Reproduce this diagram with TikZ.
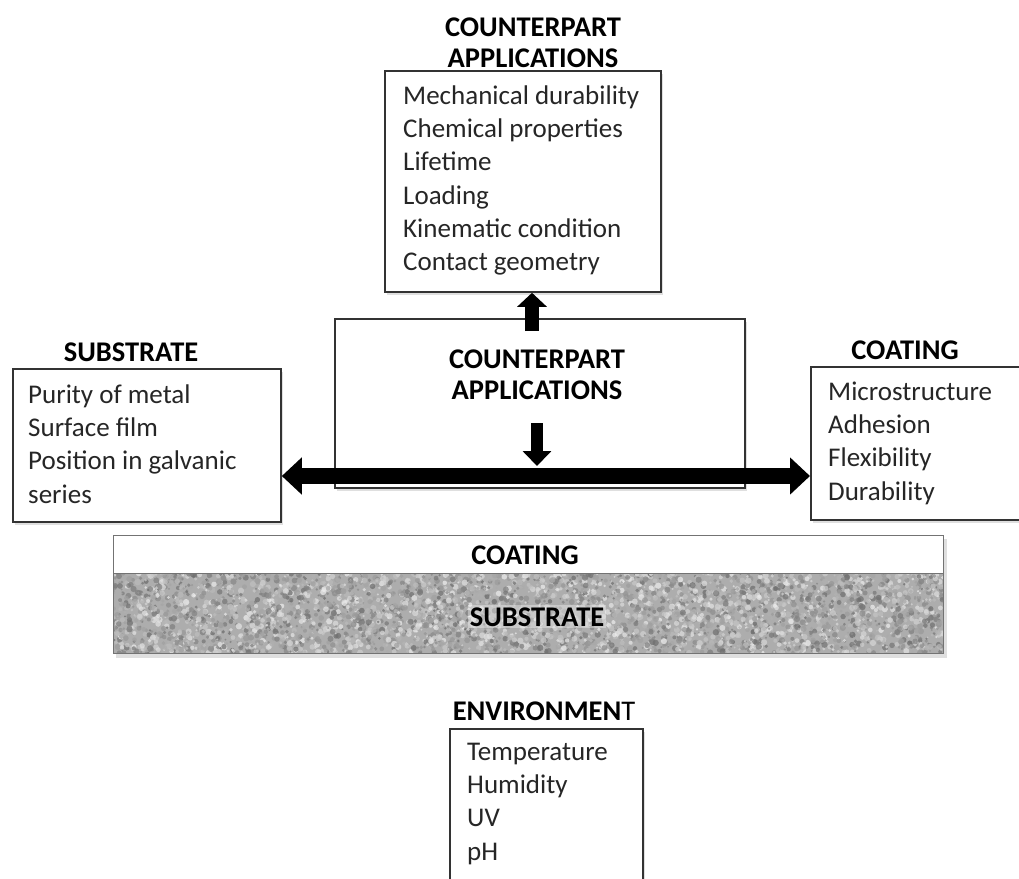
\documentclass[tikz,border=0pt]{standalone}
\usepackage{fontspec}
\setmainfont{Carlito}
\usetikzlibrary{arrows.meta,shadows}
\begin{document}
\begin{tikzpicture}[x=1pt,y=-1pt,
  box/.style={draw=black!80, line width=1.8pt, fill=white, anchor=north west, inner sep=0pt,
    drop shadow={shadow xshift=2pt, shadow yshift=-3pt, opacity=0.25}},
  body/.style={font=\fontsize{27}{33.2}\selectfont, align=left, anchor=north west, inner sep=0pt, text=black!85},
  head/.style={font=\bfseries\fontsize{28.5}{31}\selectfont, align=center, inner sep=0pt},
  uparr/.style={line width=14pt, -{Triangle[length=14pt,width=29pt]}},
  downarr/.style={line width=12pt, -{Triangle[length=15pt,width=28pt]}},
  dblarr/.style={line width=16pt, {Triangle[length=20pt,width=36pt]}-{Triangle[length=20pt,width=36pt]}}
]
\useasboundingbox (0,0) rectangle (1019,878);

% ---- top box
\node[head, anchor=north] (toph) at (533,14.3) {\strut COUNTERPART\\APPLICATIONS};
\node[box, minimum width=276pt, minimum height=221pt] (top) at (384,70) {};
\node[body] (topt) at (403,81) {\strut Mechanical durability\\Chemical properties\\Lifetime\\Loading\\Kinematic condition\\Contact geometry};

% ---- centre box
\node[box, minimum width=410pt, minimum height=169pt] (center) at (334,318) {};
\node[head, anchor=north] (centerh) at (537,347) {\strut COUNTERPART\\APPLICATIONS};

% ---- substrate box
\node[head, anchor=base] (subh) at (131,361) {SUBSTRATE};
\node[box, minimum width=268pt, minimum height=153pt] (sub) at (12,368) {};
\node[body] (subt) at (28,380) {\strut Purity of metal\\Surface film\\Position in galvanic\\series};

% ---- coating box
\node[head, anchor=base] (coath) at (905,359) {COATING};
\node[box, minimum width=240pt, minimum height=153pt] (coat) at (810,366) {};
\node[body] (coatt) at (828,377) {\strut Microstructure\\Adhesion\\Flexibility\\Durability};

% ---- arrows
\coordinate (upS) at (532,331);
\draw[uparr] (upS) -- (upS |- top.south);
\coordinate (h) at (537,476);
\coordinate (downS) at (537,423);
\draw[dblarr] (h -| sub.east) -- (h -| coat.west);
\draw[downarr] (downS) -- ([yshift=10pt]h);

% ---- layer band
\fill[black!25, opacity=0.5] (116,539) rectangle (947,658);
\node[draw=black!55, line width=1pt, fill=white, anchor=north west, inner sep=0pt,
  minimum width=830pt, minimum height=38pt] (coatlayer) at (113,535) {};
\begin{scope}
  \clip (113,573) rectangle (943,653);
  \fill[black!32] (113,573) rectangle (943,653);
  \pgfmathsetseed{12345}
  \foreach \i in {1,...,4500}{
    \pgfmathsetmacro\px{113+830*rnd}
    \pgfmathsetmacro\py{573+80*rnd}
    \pgfmathsetmacro\g{int(8+50*rnd)}
    \pgfmathsetmacro\r{1+2.2*rnd}
    \fill[black!\g, opacity=0.75] (\px,\py) circle[radius=\r pt];
  }
\end{scope}
\draw[black!55, line width=1pt] (113,573) rectangle (943,653);
\node[head, anchor=base] (coatl) at (525,564) {COATING};
\node[head, anchor=base, fill=white, fill opacity=0.35, text opacity=1, inner sep=2pt] (subl) at (537,626) {SUBSTRATE};

% ---- environment box
\node[head, anchor=base] (envh) at (544,720) {ENVIRONMEN\mdseries T};
\node[box, minimum width=193pt, minimum height=200pt] (env) at (449,728) {};
\node[body] (envt) at (467,737) {\strut Temperature\\Humidity\\UV\\pH};
\end{tikzpicture}
\end{document}
